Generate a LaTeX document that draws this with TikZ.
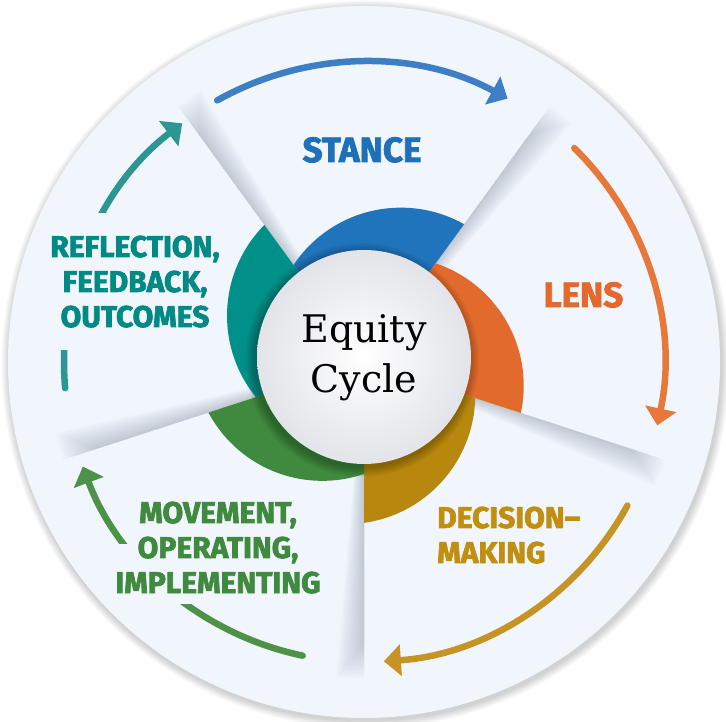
\documentclass[tikz,border=0pt]{standalone}
\usepackage{fontspec}
\newfontfamily\labfont{Fira Sans}[BoldFeatures={FakeBold=2.3}]
\newfontfamily\eqfont{DejaVu Serif}
\usetikzlibrary{arrows.meta}
\definecolor{bgc}{HTML}{F1F6FC}
\definecolor{shadowc}{RGB}{30,45,80}
\definecolor{petblue}{HTML}{1F74BC}
\definecolor{petorange}{HTML}{E26A2C}
\definecolor{petgold}{HTML}{B8880E}
\definecolor{petgreen}{HTML}{3F8A3E}
\definecolor{petteal}{HTML}{00908A}
\definecolor{arrblue}{HTML}{3D7EC5}
\definecolor{arrorange}{HTML}{E8773A}
\definecolor{arrgold}{HTML}{C69327}
\definecolor{arrgreen}{HTML}{4E9249}
\definecolor{arrteal}{HTML}{2C9692}
\definecolor{txtblue}{HTML}{1F70B9}
\definecolor{txtorange}{HTML}{E5692C}
\definecolor{txtgold}{HTML}{C18E10}
\definecolor{txtgreen}{HTML}{3F8A3F}
\definecolor{txtteal}{HTML}{008A85}
\tikzset{
  cyclearrow/.style={line width=6.5pt, line cap=round,
    -{Triangle[length=17pt,width=31pt]}},
  biglab/.style={inner sep=0pt, anchor=base, font=\labfont\bfseries\fontsize{35}{40}\selectfont},
  lab/.style={inner sep=0pt, anchor=base, font=\labfont\bfseries\fontsize{30}{36}\selectfont},
  eqlab/.style={inner sep=0pt, anchor=base, font=\eqfont\fontsize{38}{44}\selectfont, text=black},
  knock/.style={fill=bgc, draw=none}
}
\begin{document}
\begin{tikzpicture}[x=1pt,y=1pt]
\useasboundingbox (0,0) rectangle (726,721);
\fill[white] (0,0) rectangle (726,721);
\coordinate (O) at (364,359);
% outer soft shadow
\foreach \i in {1,...,9} \fill[black,opacity=0.018] (365.5,356.5) circle ({356+0.9*\i});
\fill[bgc] (O) circle (356);
\begin{scope}[shift={(364,359)}]
  % divider shadows
  \begin{scope}
    \clip (0,0) circle (355);
    \foreach \t in {126,54,-18,-90,198} {
      \foreach \i in {1,...,14} {
        \fill[shadowc, opacity=0.014] (0,0) -- (\t:{280+2.6*\i}) -- ({\t-0.36*\i}:{280+2.6*\i}) -- cycle;
      }
    }
  \end{scope}
  % petals
  \foreach \c/\col in {90/petblue, 18/petorange, -54/petgold, -126/petgreen, 162/petteal} {
    \pgfmathsetmacro\angA{\c-36}
    \pgfmathsetmacro\angB{\c+36}
    \pgfmathsetmacro\angC{\c-61.2}
    \begin{scope}
      \clip (0,0) -- (\angA:250) arc[start angle=\angA, end angle=\angB, radius=250] -- cycle;
      \fill[\col] ([shift={(0,5)}]\angC:42) circle (129.1);
    \end{scope}
  }
  % inner circle shadow
  \foreach \i in {1,...,10} \fill[black,opacity=0.028] (-2,2) circle ({107+\i});
  \shade[inner color=white, outer color={rgb,255:red,226;green,228;blue,233}] (0,5) circle (107);
  % arrows
  \draw[cyclearrow, arrblue] (119.3:300) arc[start angle=119.3, end angle=61.4, radius=300];
  \draw[cyclearrow, arrorange] (45.5:300) arc[start angle=45.5, end angle=-12.2, radius=300];
  \draw[cyclearrow, arrgold] (-28.6:300) arc[start angle=-28.6, end angle=-86.2, radius=300];
  \draw[cyclearrow, arrgreen] (258.2:300) arc[start angle=258.2, end angle=200.4, radius=300];
  \draw[cyclearrow, arrteal] (185:300) arc[start angle=185, end angle=127.3, radius=300];
\end{scope}
% text backgrounds that interrupt the arrows
\fill[knock] (40,371) rectangle (225,508);
\fill[knock] (112,117) rectangle (335,177);
% labels
\node[biglab, text=txtblue] (stance) at (362,559) {STANCE};
\node[biglab, text=txtorange] (lens) at (583.5,414) {LENS};
\node[lab, text=txtteal] (refla) at (135,464) {REFLECTION,};
\node[lab, text=txtteal] (reflb) at (135,429) {FEEDBACK,};
\node[lab, text=txtteal] (reflc) at (135,394) {OUTCOMES};
\node[lab, text=txtgreen] (mova) at (218,198) {MOVEMENT,};
\node[lab, text=txtgreen] (movb) at (218,163) {OPERATING,};
\node[lab, text=txtgreen] (movc) at (218,128) {IMPLEMENTING};
\node[lab, text=txtgold, anchor=base west] (deca) at (437,193) {DECISION–};
\node[lab, text=txtgold, anchor=base west] (decb) at (437,158) {MAKING};
\node[eqlab] (eqa) at (364,378) {Equity};
\node[eqlab] (eqb) at (364,328) {Cycle};
\end{tikzpicture}
\end{document}
